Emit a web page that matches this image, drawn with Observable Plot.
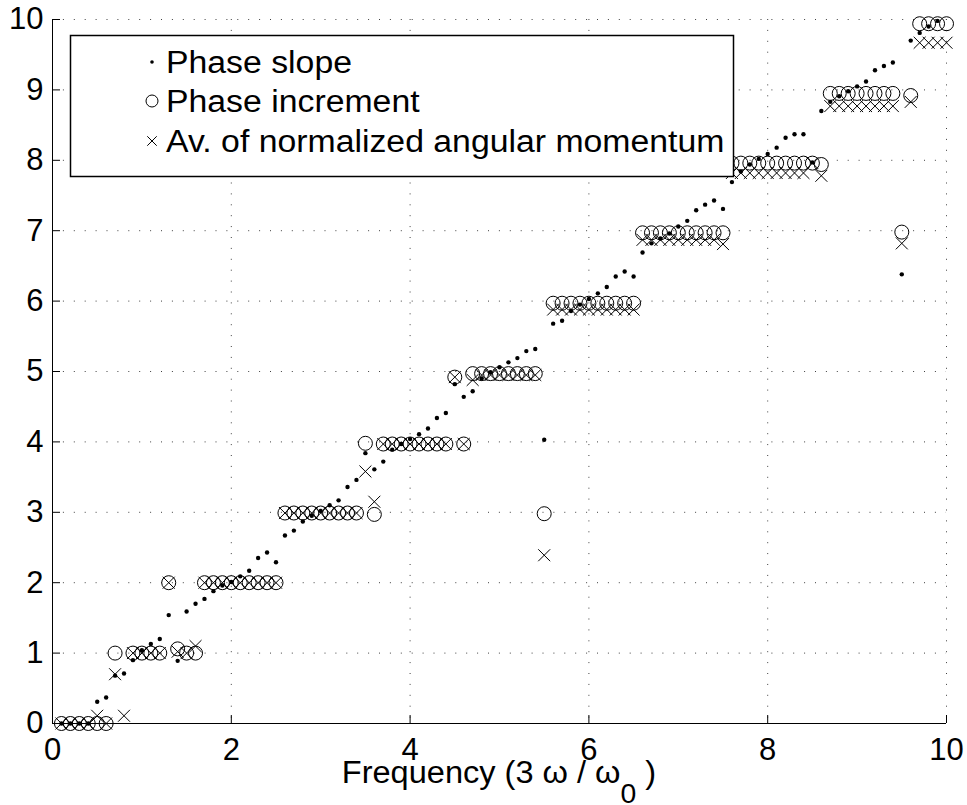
<!DOCTYPE html>
<html><head><meta charset="utf-8">
<script src="https://cdn.jsdelivr.net/npm/d3@7"></script>
<script src="https://cdn.jsdelivr.net/npm/@observablehq/plot@0.6"></script>
<style>body{margin:0;background:#fff} svg{display:block}</style>
</head><body><div id="chart"></div>
<script>
const freq = [0.1,0.2,0.3,0.4,0.5,0.6,0.7,0.8,0.9,1.0,
  1.1,1.2,1.3,1.4,1.5,1.6,1.7,1.8,1.9,2.0,
  2.1,2.2,2.3,2.4,2.5,2.6,2.7,2.8,2.9,3.0,
  3.1,3.2,3.3,3.4,3.5,3.6,3.7,3.8,3.9,4.0,
  4.1,4.2,4.3,4.4,4.5,4.6,4.7,4.8,4.9,5.0,
  5.1,5.2,5.3,5.4,5.5,5.6,5.7,5.8,5.9,6.0,
  6.1,6.2,6.3,6.4,6.5,6.6,6.7,6.8,6.9,7.0,
  7.1,7.2,7.3,7.4,7.5,7.6,7.7,7.8,7.9,8.0,
  8.1,8.2,8.3,8.4,8.5,8.6,8.7,8.8,8.9,9.0,
  9.1,9.2,9.3,9.4,9.5,9.6,9.7,9.8,9.9,10.0];
const phaseSlope = [0.00,0.00,0.00,0.00,0.31,0.37,0.68,0.71,0.90,1.04,
  1.13,1.20,1.54,0.89,1.59,1.70,1.77,1.88,1.96,2.01,
  2.09,2.17,2.35,2.43,2.29,2.67,2.74,2.87,2.95,3.02,
  3.10,3.17,3.36,3.46,3.84,3.61,3.72,3.89,3.97,4.04,
  4.11,4.19,4.34,4.41,4.82,4.64,4.72,4.90,4.99,5.06,
  5.13,5.19,5.29,5.32,4.03,5.68,5.72,5.86,5.95,6.03,
  6.11,6.20,6.35,6.42,6.35,6.69,6.82,6.89,6.96,7.06,
  7.14,7.29,7.37,7.43,7.31,7.69,7.84,7.94,8.02,8.09,
  8.18,8.32,8.37,8.37,7.97,8.70,8.83,8.91,8.98,9.05,
  9.12,9.28,9.34,9.39,6.38,9.70,9.81,9.90,9.98,null];
const phaseIncrement = [0,0,0,0,0,0,1.00,null,1.00,1.00,
  1.00,1.00,2.00,1.06,1.00,1.00,2.00,2.00,2.00,2.00,
  2.00,2.00,2.00,2.00,2.00,2.99,2.99,2.99,2.99,2.99,
  2.99,2.99,2.99,2.99,3.98,2.97,3.97,3.97,3.97,3.97,
  3.97,3.97,3.97,3.97,4.92,3.97,4.97,4.97,4.97,4.97,
  4.97,4.97,4.97,4.97,2.98,5.97,5.97,5.97,5.97,5.97,
  5.97,5.97,5.97,5.97,5.97,6.97,6.97,6.97,6.97,6.97,
  6.97,6.97,6.97,6.97,6.97,7.96,7.96,7.96,7.96,7.96,
  7.96,7.96,7.96,7.96,7.96,7.94,8.95,8.95,8.95,8.95,
  8.95,8.95,8.95,8.95,6.98,8.92,9.94,9.94,9.94,9.94];
const angularMomentum = [0,0,0,0,0.11,0,0.70,0.11,1.00,1.00,
  1.00,1.00,2.00,1.02,1.00,1.10,2.00,2.00,2.00,2.00,
  2.00,2.00,2.00,2.00,2.00,2.99,2.99,2.99,2.99,2.99,
  2.99,2.99,2.99,2.99,3.58,3.15,3.97,3.97,3.97,3.97,
  3.97,3.97,3.97,3.97,4.92,3.97,4.88,4.95,4.95,4.95,
  4.95,4.95,4.95,4.95,2.39,5.88,5.88,5.88,5.88,5.88,
  5.88,5.88,5.88,5.88,5.88,6.87,6.87,6.87,6.87,6.87,
  6.87,6.87,6.87,6.87,6.81,7.82,7.82,7.82,7.82,7.82,
  7.82,7.82,7.82,7.82,7.96,7.78,8.77,8.77,8.77,8.77,
  8.77,8.77,8.77,8.77,6.82,8.83,9.67,9.67,9.67,9.67];
const xTicks = [0,2,4,6,8,10];
const yTicks = [0,1,2,3,4,5,6,7,8,9,10];
const xGrid = [2,4,6,8,10];
const yGrid = [1,2,3,4,5,6,7,8,9,10];
const seriesNames = ["Phase slope","Phase increment","Av. of normalized angular momentum"];
const xLabelMain = "Frequency (3 \u03c9 / \u03c9";
const xLabelSub = "0";
const xLabelEnd = " )";

const rows = freq.map((f, i) => ({f, slope: phaseSlope[i], inc: phaseIncrement[i], mom: angularMomentum[i]}));
const FONT = "'Liberation Sans', Arial, Helvetica, sans-serif";
const gridStyle = {stroke: "#000", strokeOpacity: 0.75, strokeDasharray: "1,9.9"};

const plot = Plot.plot({
  width: 967, height: 805,
  marginLeft: 52, marginRight: 21, marginTop: 19, marginBottom: 82,
  style: {fontFamily: FONT, background: "white", overflow: "visible", color: "black"},
  x: {domain: [0, 10]},
  y: {domain: [0, 10]},
  marks: [
    Plot.gridX(xGrid, gridStyle),
    Plot.gridY(yGrid, gridStyle),
    Plot.axisX(xTicks, {tickSize: -8, tickPadding: 22, fontSize: 31, label: null, tickFormat: d => String(d)}),
    Plot.axisY(yTicks, {tickSize: -8, tickPadding: 17, fontSize: 31, label: null, tickFormat: d => String(d)}),
    Plot.ruleX([0], {stroke: "black"}),
    Plot.ruleY([0], {stroke: "black"}),
    Plot.dot(rows, {x: "f", y: "inc", r: 7, stroke: "black", strokeWidth: 1, fill: "none"}),
    Plot.dot(rows, {x: "f", y: "mom", symbol: "times", r: 5.5, stroke: "black", strokeWidth: 1}),
    Plot.dot(rows, {x: "f", y: "slope", r: 2.2, fill: "black", stroke: null})
  ]
});
document.getElementById("chart").appendChild(plot);

const svg = d3.select(plot);
// x label
const xl = svg.append("text").attr("x", 499).attr("y", 783).attr("text-anchor", "middle")
  .attr("font-size", 31).attr("font-family", FONT).attr("fill", "black").attr("class", "xl");
xl.append("tspan").text(xLabelMain);
xl.append("tspan").attr("dy", 20).attr("font-size", 27).text(xLabelSub);
xl.append("tspan").attr("dy", -20).text(xLabelEnd);

// legend
const lg = svg.append("g").attr("class", "legend");
lg.append("rect").attr("x", 70.5).attr("y", 35.5).attr("width", 663).attr("height", 141)
  .attr("fill", "white").attr("stroke", "black").attr("stroke-width", 1.5);
const rowY = [62, 101, 141];
const sym = [
  g => g.append("circle").attr("r", 1.8).attr("fill", "black"),
  g => g.append("circle").attr("r", 6).attr("fill", "none").attr("stroke", "black"),
  g => g.append("path").attr("d", d3.symbol(d3.symbolTimes, 60)()).attr("fill", "none").attr("stroke", "black")
];
seriesNames.forEach((name, i) => {
  const g = lg.append("g").attr("transform", `translate(152,${rowY[i]})`);
  sym[i](g);
  lg.append("text").attr("x", 166).attr("y", rowY[i]).attr("dy", "0.36em").attr("text-anchor", "start")
    .attr("font-size", 31).attr("font-family", FONT).attr("fill", "black").attr("class", "lt").text(name);
});

// emulate the horizontally stretched lettering of the original
function stretch(sel, k) {
  sel.each(function() {
    const w = this.getComputedTextLength();
    if (w > 0) { this.setAttribute("textLength", w * k); this.setAttribute("lengthAdjust", "spacingAndGlyphs"); }
  });
}
stretch(svg.selectAll("text.lt"), 1.09);
stretch(svg.selectAll("text.xl"), 1.05);
</script>
</body></html>
